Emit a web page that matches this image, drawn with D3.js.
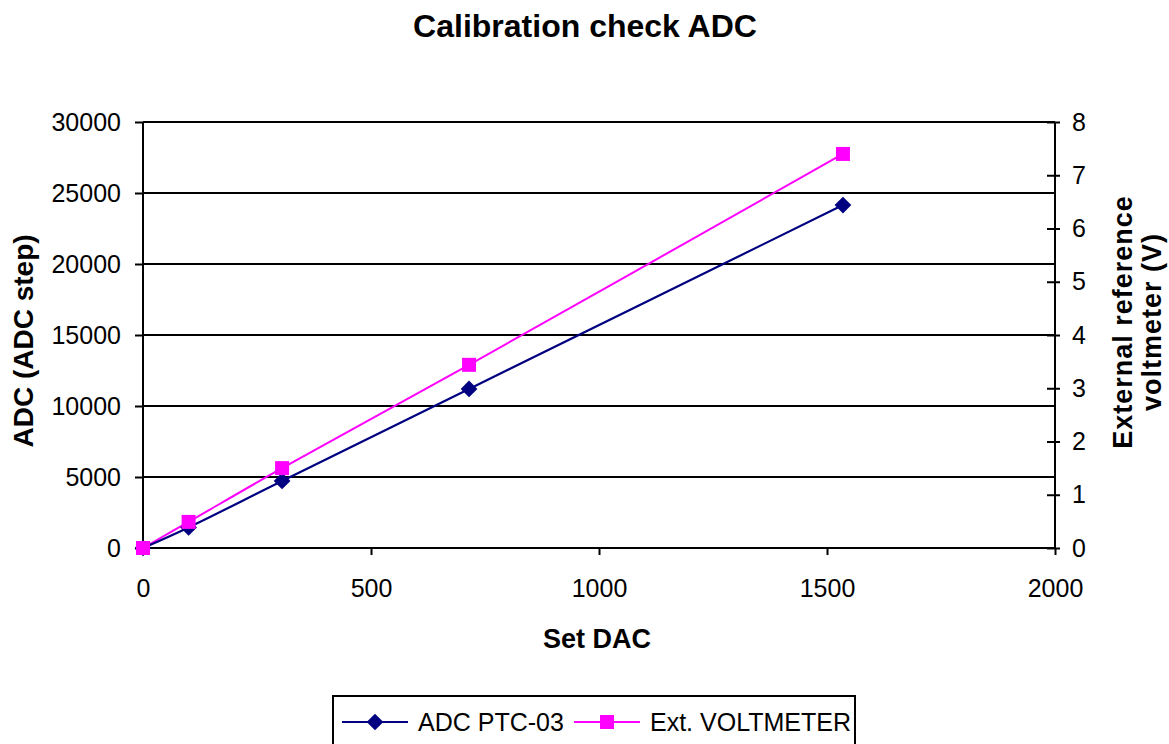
<!DOCTYPE html>
<html><head><meta charset="utf-8">
<script src="https://cdn.jsdelivr.net/npm/d3@7"></script>
<style>body{margin:0;background:#fff}svg{display:block;font-family:"Liberation Sans",Arial,sans-serif}</style>
</head><body>
<svg id="c" width="1169" height="744"></svg>
<script>
const setDAC = [0, 100, 305, 715, 1535];
const adcValues = [0, 1450, 4720, 11200, 24150];
const voltValues = [0, 0.49, 1.50, 3.44, 7.40];
const xTicks = [0, 500, 1000, 1500, 2000];
const yLeftTicks = [0, 5000, 10000, 15000, 20000, 25000, 30000];
const yRightTicks = [0, 1, 2, 3, 4, 5, 6, 7, 8];
const seriesNames = ["ADC PTC-03", "Ext. VOLTMETER"];

const svg = d3.select("#c");
const L = 143, R = 1055, T = 122, B = 548;
const x = d3.scaleLinear().domain([0, 2000]).range([L, R]);
const yL = d3.scaleLinear().domain([0, 30000]).range([B, T]);
const yR = d3.scaleLinear().domain([0, 8]).range([B, T]);
const FONT = '"Liberation Sans",Arial,sans-serif';

// gridlines
svg.append("g").selectAll("line").data(yLeftTicks.slice(1)).join("line")
  .attr("x1", L).attr("x2", R).attr("y1", d => yL(d)).attr("y2", d => yL(d))
  .attr("stroke", "#000").attr("stroke-width", 2);

const gL = svg.append("g").attr("transform", `translate(${L},0)`)
  .call(d3.axisLeft(yL).tickValues(yLeftTicks).tickSize(8).tickPadding(14).tickFormat(d3.format("d")));
const gR = svg.append("g").attr("transform", `translate(${R},0)`)
  .call(d3.axisRight(yR).tickValues(yRightTicks).tickSize(5).tickPadding(12).tickFormat(d3.format("d")));
gR.selectAll(".tick line").attr("x1", -8);
const gB = svg.append("g").attr("transform", `translate(0,${B})`)
  .call(d3.axisBottom(x).tickValues(xTicks).tickSize(7).tickPadding(24).tickFormat(d3.format("d")));

[gL, gR, gB].forEach(g => {
  g.attr("font-size", null).attr("font-family", null);
  g.select(".domain").attr("stroke", "#000").attr("stroke-width", 2);
  g.selectAll(".tick line").attr("stroke", "#000").attr("stroke-width", 2);
  g.selectAll(".tick text").attr("font-size", 25).attr("fill", "#000").attr("font-family", FONT);
});
gL.select(".domain").attr("d", `M0,${B}V${T}`);
gR.select(".domain").attr("d", `M0,${B}V${T}`);
gB.select(".domain").attr("d", `M${L},0H${R}`);

// lines
const ptsA = setDAC.map((d, i) => [x(d), yL(adcValues[i])]);
const ptsV = setDAC.map((d, i) => [x(d), yR(voltValues[i])]);
svg.append("path").attr("d", d3.line().curve(d3.curveCatmullRom)(ptsV))
  .attr("fill", "none").attr("stroke", "#FF00FF").attr("stroke-width", 2);
svg.append("path").attr("d", d3.line().curve(d3.curveCatmullRom)(ptsA))
  .attr("fill", "none").attr("stroke", "#000080").attr("stroke-width", 2.2);

const diamondSym = d3.symbol().type(d3.symbolSquare).size(140);
const squareSym = d3.symbol().type(d3.symbolSquare).size(196);
svg.append("g").selectAll("path").data(ptsA).join("path")
  .attr("transform", d => `translate(${d[0]},${d[1]}) rotate(45)`)
  .attr("d", diamondSym).attr("fill", "#000080");
svg.append("g").selectAll("path").data(ptsV).join("path")
  .attr("transform", d => `translate(${d[0]},${d[1]})`)
  .attr("d", squareSym).attr("fill", "#FF00FF");

// titles
svg.append("text").attr("x", 585).attr("y", 37).attr("text-anchor", "middle")
  .attr("font-size", 32).attr("font-weight", "bold").text("Calibration check ADC");
svg.append("text").attr("x", 597).attr("y", 648).attr("text-anchor", "middle")
  .attr("font-size", 27).attr("font-weight", "bold").text("Set DAC");
svg.append("text").attr("transform", "translate(33,341) rotate(-90)").attr("text-anchor", "middle")
  .attr("font-size", 28).attr("font-weight", "bold").text("ADC (ADC step)");
const rt = svg.append("text").attr("transform", "translate(1132,322) rotate(-90)").attr("text-anchor", "middle")
  .attr("font-size", 27).attr("font-weight", "bold").attr("letter-spacing", 1);
rt.append("tspan").attr("x", 0).attr("dy", 0).text("External reference");
rt.append("tspan").attr("x", 0).attr("dy", 29).text("voltmeter (V)");

// legend
const lg = svg.append("g");
lg.append("rect").attr("x", 333).attr("y", 696).attr("width", 522).attr("height", 60)
  .attr("fill", "#fff").attr("stroke", "#000").attr("stroke-width", 2);
const ly = 722;
lg.append("line").attr("x1", 342).attr("x2", 408).attr("y1", ly).attr("y2", ly).attr("stroke", "#000080").attr("stroke-width", 2.2);
lg.append("path").attr("transform", `translate(375,${ly}) rotate(45)`).attr("d", diamondSym).attr("fill", "#000080");
lg.append("text").attr("x", 418).attr("y", 731).attr("font-size", 25).text(seriesNames[0]);
lg.append("line").attr("x1", 574).attr("x2", 640).attr("y1", ly).attr("y2", ly).attr("stroke", "#FF00FF").attr("stroke-width", 2);
lg.append("path").attr("transform", `translate(607,${ly})`).attr("d", squareSym).attr("fill", "#FF00FF");
lg.append("text").attr("x", 650).attr("y", 731).attr("font-size", 25).text(seriesNames[1]);
</script>
</body></html>
